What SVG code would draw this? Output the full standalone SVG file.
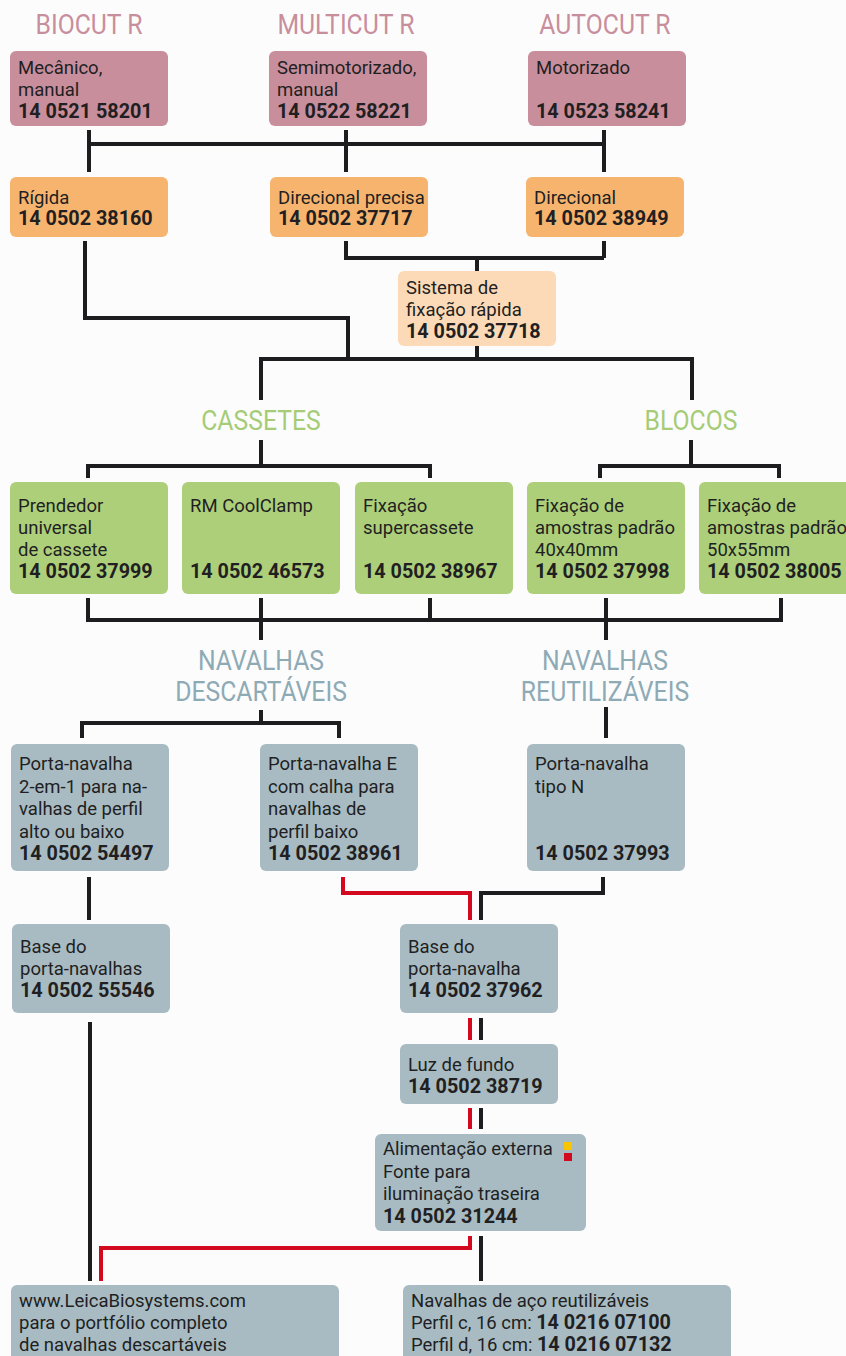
<svg xmlns="http://www.w3.org/2000/svg" width="846" height="1356" viewBox="0 0 846 1356">
<style>
text{font-family:Roboto,"Liberation Sans",sans-serif;fill:#211f22;font-size:18.5px}
.b{font-weight:700;font-size:19.8px}
.h{font-size:27.5px;text-anchor:middle}
.hp{fill:#c98e9c}.hg{fill:#a6cc77}.hb{fill:#8eaab4}
.pk{fill:#c98e9c}.or{fill:#f7b46e}.pe{fill:#fddab7}.gr{fill:#aecf7a}.gy{fill:#a8bbc2}
.k{fill:none;stroke:#1d1d20;stroke-width:4;stroke-linecap:butt;stroke-linejoin:miter}
.r{fill:none;stroke:#d2091f;stroke-width:4;stroke-linecap:butt;stroke-linejoin:miter}
</style>
<rect width="846" height="1356" fill="#fcfcfd"/>
<g id="headers" transform="scale(0.9,1)">
<text class="h hp" x="98.9" y="34">BIOCUT R</text>
<text class="h hp" x="384.4" y="34">MULTICUT R</text>
<text class="h hp" x="672.2" y="34">AUTOCUT R</text>
<text class="h hg" x="290" y="430">CASSETES</text>
<text class="h hg" x="767.8" y="430">BLOCOS</text>
<text class="h hb" x="290" y="670">NAVALHAS</text>
<text class="h hb" x="290" y="701">DESCARTÁVEIS</text>
<text class="h hb" x="672.2" y="670">NAVALHAS</text>
<text class="h hb" x="672.2" y="701">REUTILIZÁVEIS</text>
</g>
<g id="connectors">
<path class="k" d="M89,130V172M346,130V172M604,130V172M89,144H604"/>
<path class="k" d="M85,241V318H348V359"/>
<path class="k" d="M346,241V258H604M604,241V258M477,258V271M477,346V359"/>
<path class="k" d="M261,400V359H692V400"/>
<path class="k" d="M261,440V466M88,478V466H430V478"/>
<path class="k" d="M691,440V466M600,478V466H779V478"/>
<path class="k" d="M88,598V620H781V598M430,598V620M261,598V640M606,598V640"/>
<path class="k" d="M261,710V723M82,738V723H339V738M606,707V738"/>
<path class="k" d="M89,877V920M603,877V893H481V920"/>
<path class="k" d="M481,1018V1040M481,1108V1129M481,1236V1281M90,1022V1281"/>
<path class="r" d="M343,877V893H470V920M470,1018V1040M470,1108V1129M470,1236V1248H101V1281"/>
</g>
<g id="n-mecanico"><rect class="pk" x="10" y="51" width="158" height="75" rx="6"/><text x="18" y="74">Mecânico,</text><text x="18" y="96">manual</text><text class="b" x="18" y="118">14 0521 58201</text></g>
<g id="n-semimotorizado"><rect class="pk" x="269" y="51" width="158" height="75" rx="6"/><text x="277" y="74">Semimotorizado,</text><text x="277" y="96">manual</text><text class="b" x="277" y="118">14 0522 58221</text></g>
<g id="n-motorizado"><rect class="pk" x="528" y="51" width="158" height="75" rx="6"/><text x="536" y="74">Motorizado</text><text class="b" x="536" y="118">14 0523 58241</text></g>
<g id="n-rigida"><rect class="or" x="10" y="177" width="158" height="60" rx="6"/><text x="18" y="204">Rígida</text><text class="b" x="18" y="225">14 0502 38160</text></g>
<g id="n-direcional-precisa"><rect class="or" x="270" y="177" width="158" height="60" rx="6"/><text x="278" y="204">Direcional precisa</text><text class="b" x="278" y="225">14 0502 37717</text></g>
<g id="n-direcional"><rect class="or" x="526" y="177" width="158" height="60" rx="6"/><text x="534" y="204">Direcional</text><text class="b" x="534" y="225">14 0502 38949</text></g>
<g id="n-sistema"><rect class="pe" x="398" y="271" width="158" height="75" rx="6"/><text x="406" y="294">Sistema de</text><text x="406" y="316">fixação rápida</text><text class="b" x="406" y="338">14 0502 37718</text></g>
<g id="n-prendedor"><rect class="gr" x="10" y="482" width="158" height="112" rx="6"/><text x="18" y="512">Prendedor</text><text x="18" y="534">universal</text><text x="18" y="556">de cassete</text><text class="b" x="18" y="578">14 0502 37999</text></g>
<g id="n-coolclamp"><rect class="gr" x="182" y="482" width="158" height="112" rx="6"/><text x="190" y="512">RM CoolClamp</text><text class="b" x="190" y="578">14 0502 46573</text></g>
<g id="n-supercassete"><rect class="gr" x="355" y="482" width="158" height="112" rx="6"/><text x="363" y="512">Fixação</text><text x="363" y="534">supercassete</text><text class="b" x="363" y="578">14 0502 38967</text></g>
<g id="n-40x40"><rect class="gr" x="527" y="482" width="158" height="112" rx="6"/><text x="535" y="512">Fixação de</text><text x="535" y="534">amostras padrão</text><text x="535" y="556">40x40mm</text><text class="b" x="535" y="578">14 0502 37998</text></g>
<g id="n-50x55"><rect class="gr" x="699" y="482" width="158" height="112" rx="6"/><text x="707" y="512">Fixação de</text><text x="707" y="534">amostras padrão</text><text x="707" y="556">50x55mm</text><text class="b" x="707" y="578">14 0502 38005</text></g>
<g id="n-2em1"><rect class="gy" x="11" y="744" width="158" height="127" rx="6"/><text x="19" y="770">Porta-navalha</text><text x="19" y="793">2-em-1 para na-</text><text x="19" y="815">valhas de perfil</text><text x="19" y="838">alto ou baixo</text><text class="b" x="19" y="860">14 0502 54497</text></g>
<g id="n-porta-e"><rect class="gy" x="260" y="744" width="158" height="127" rx="6"/><text x="268" y="770">Porta-navalha E</text><text x="268" y="793">com calha para</text><text x="268" y="815">navalhas de</text><text x="268" y="838">perfil baixo</text><text class="b" x="268" y="860">14 0502 38961</text></g>
<g id="n-tipo-n"><rect class="gy" x="527" y="744" width="158" height="127" rx="6"/><text x="535" y="770">Porta-navalha</text><text x="535" y="793">tipo N</text><text class="b" x="535" y="860">14 0502 37993</text></g>
<g id="n-base-navalhas"><rect class="gy" x="12" y="924" width="158" height="89" rx="6"/><text x="20" y="953">Base do</text><text x="20" y="975">porta-navalhas</text><text class="b" x="20" y="997">14 0502 55546</text></g>
<g id="n-base-navalha"><rect class="gy" x="400" y="924" width="158" height="89" rx="6"/><text x="408" y="953">Base do</text><text x="408" y="975">porta-navalha</text><text class="b" x="408" y="997">14 0502 37962</text></g>
<g id="n-luz"><rect class="gy" x="400" y="1044" width="158" height="60" rx="6"/><text x="408" y="1071">Luz de fundo</text><text class="b" x="408" y="1093">14 0502 38719</text></g>
<g id="n-alimentacao"><rect class="gy" x="375" y="1134" width="211" height="97" rx="6"/><text x="383" y="1155">Alimentação externa</text><text x="383" y="1178">Fonte para</text><text x="383" y="1200">iluminação traseira</text><text class="b" x="383" y="1223">14 0502 31244</text><rect x="564" y="1142" width="8" height="8" fill="#f7c600"/><rect x="564" y="1153" width="8" height="8" fill="#d2091f"/></g>
<g id="n-leica"><rect class="gy" x="11" y="1285" width="328" height="90" rx="6"/><text x="19" y="1307">www.LeicaBiosystems.com</text><text x="19" y="1329">para o portfólio completo</text><text x="19" y="1351">de navalhas descartáveis</text></g>
<g id="n-aco"><rect class="gy" x="403" y="1285" width="328" height="90" rx="6"/><text x="411" y="1307">Navalhas de aço reutilizáveis</text><text x="411" y="1329">Perfil c, 16 cm: <tspan class="b">14 0216 07100</tspan></text><text x="411" y="1351">Perfil d, 16 cm: <tspan class="b">14 0216 07132</tspan></text></g>
</svg>
